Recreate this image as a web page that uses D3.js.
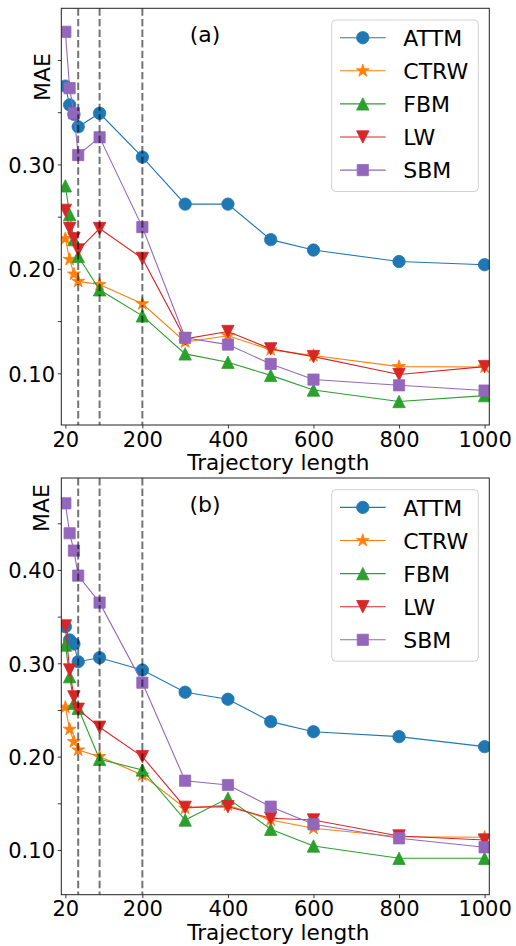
<!DOCTYPE html>
<html>
<head>
<meta charset="utf-8">
<script src="https://cdn.jsdelivr.net/npm/d3@7"></script>
<style>
  html, body { margin: 0; padding: 0; background: #fff; }
  svg { display: block; font-family: "DejaVu Sans", sans-serif; }
</style>
</head>
<body>
<svg id="chart" width="516" height="946"></svg>
<script>
// ---------------- data ----------------
const lengths = [20, 30, 40, 50, 100, 200, 300, 400, 500, 600, 800, 1000];
const seriesNames = ["ATTM", "CTRW", "FBM", "LW", "SBM"];
const dashedLengths = [50, 100, 200];
const xTickValues = [20, 200, 400, 600, 800, 1000];

// panel (a)
const attmA = [0.375, 0.357, 0.348, 0.336, 0.349, 0.307, 0.262, 0.262, 0.228, 0.218, 0.207, 0.204];
const ctrwA = [0.229, 0.209, 0.195, 0.188, 0.185, 0.1666, 0.130, 0.136, 0.1225, 0.117, 0.1064, 0.106];
const fbmA  = [0.2795, 0.252, 0.228, 0.212, 0.180, 0.155, 0.1186, 0.1106, 0.098, 0.084, 0.073, 0.0786];
const lwA   = [0.256, 0.2386, 0.229, 0.218, 0.2386, 0.210, 0.133, 0.140, 0.1234, 0.116, 0.0988, 0.1064];
const sbmA  = [0.427, 0.373, 0.349, 0.309, 0.326, 0.240, 0.134, 0.1275, 0.109, 0.094, 0.0885, 0.0835];
const yTicksA = [0.10, 0.15, 0.20, 0.25, 0.30, 0.35, 0.40];
const yLabelsA = [0.10, 0.20, 0.30];

// panel (b)
const attmB = [0.3392, 0.325, 0.3207, 0.3017, 0.306, 0.2928, 0.269, 0.2615, 0.2375, 0.2267, 0.2214, 0.2107];
const ctrwB = [0.2529, 0.2293, 0.216, 0.2071, 0.200, 0.1803, 0.1447, 0.1482, 0.1321, 0.1232, 0.1142, 0.1136];
const fbmB  = [0.3196, 0.2857, 0.2572, 0.2518, 0.1972, 0.1857, 0.1321, 0.1554, 0.1222, 0.1043, 0.0911, 0.0911];
const lwB   = [0.340, 0.2928, 0.264, 0.2507, 0.2315, 0.200, 0.1457, 0.1464, 0.134, 0.1321, 0.115, 0.1107];
const sbmB  = [0.4714, 0.4393, 0.4207, 0.3939, 0.365, 0.2792, 0.1742, 0.1696, 0.1464, 0.1275, 0.1125, 0.1029];
const yTicksB = [0.10, 0.15, 0.20, 0.25, 0.30, 0.35, 0.40, 0.45];
const yLabelsB = [0.10, 0.20, 0.30, 0.40];

// ---------------- style ----------------
const colors = ["#1f77b4", "#ff7f0e", "#2ca02c", "#d62728", "#9467bd"];
const markers = ["circle", "star", "up", "down", "square"];

const svg = d3.select("#chart");
const X0 = 61.3, X1 = 489.3;
const x = d3.scaleLinear().domain([10.5, 1011]).range([X0, X1]);

function markerPath(kind) {
  if (kind === "circle") { const r = 6.2; return `M${r},0A${r},${r} 0 1,1 ${-r},0A${r},${r} 0 1,1 ${r},0Z`; }
  if (kind === "square") { const s = 5.6; return `M${-s},${-s}H${s}V${s}H${-s}Z`; }
  if (kind === "up") { const w = 6.2, h = 6.2; return `M0,${-h}L${w},${h}L${-w},${h}Z`; }
  if (kind === "down") { const w = 6.2, h = 6.2; return `M0,${h}L${w},${-h}L${-w},${-h}Z`; }
  if (kind === "star") {
    const R = 6.8, r = R * 0.382; let p = "";
    for (let i = 0; i < 10; i++) {
      const rad = i % 2 === 0 ? R : r;
      const a = -Math.PI / 2 + i * Math.PI / 5;
      p += (i === 0 ? "M" : "L") + (rad * Math.cos(a)).toFixed(2) + "," + (rad * Math.sin(a)).toFixed(2);
    }
    return p + "Z";
  }
}

function drawPanel(cfg) {
  const { top, bottom, yDomain, series, yTicks, yLabels, tag, tagY, maeX, maeY, id } = cfg;
  const y = d3.scaleLinear().domain(yDomain).range([bottom, top]);
  const g = svg.append("g");

  g.append("clipPath").attr("id", "clip" + id)
    .append("rect").attr("x", X0).attr("y", top).attr("width", X1 - X0).attr("height", bottom - top);

  const plot = g.append("g").attr("clip-path", `url(#clip${id})`);

  series.forEach((vals, si) => {
    const pts = lengths.map((L, i) => [L, vals[i]]);
    plot.append("path")
      .attr("d", d3.line().x(d => x(d[0])).y(d => y(d[1]))(pts))
      .attr("fill", "none").attr("stroke", colors[si]).attr("stroke-width", 1.1);
    plot.selectAll(null).data(pts).enter().append("path")
      .attr("d", markerPath(markers[si]))
      .attr("transform", d => `translate(${x(d[0])},${y(d[1])})`)
      .attr("fill", colors[si]).attr("stroke", colors[si]).attr("stroke-width", 0.8);
  });

  // dashed vertical lines
  plot.selectAll(null).data(dashedLengths).enter().append("line")
    .attr("x1", d => x(d)).attr("x2", d => x(d))
    .attr("y1", top).attr("y2", bottom)
    .attr("stroke", "#000").attr("stroke-opacity", 0.55)
    .attr("stroke-width", 2).attr("stroke-dasharray", "7.4,3.2");

  // frame
  g.append("rect").attr("x", X0).attr("y", top).attr("width", X1 - X0).attr("height", bottom - top)
    .attr("fill", "none").attr("stroke", "#222").attr("stroke-width", 1);

  // x axis
  const xAxis = d3.axisBottom(x).tickValues(xTickValues).tickSize(3.5).tickPadding(3).tickFormat(d3.format("d"));
  const xa = g.append("g").attr("transform", `translate(0,${bottom})`).call(xAxis);
  xa.select(".domain").remove();
  xa.selectAll(".tick line").attr("stroke", "#222").attr("stroke-width", 0.9);
  xa.selectAll(".tick text").attr("font-size", 21).attr("font-family", "DejaVu Sans").attr("fill", "#000")
    .attr("dy", null).attr("y", 21.6);

  // y axis
  const yAxis = d3.axisLeft(y).tickValues(yTicks).tickSize(3.5).tickPadding(3)
    .tickFormat(d => yLabels.some(v => Math.abs(v - d) < 1e-9) ? d3.format(".2f")(d) : "");
  const ya = g.append("g").attr("transform", `translate(${X0},0)`).call(yAxis);
  ya.select(".domain").remove();
  ya.selectAll(".tick line").attr("stroke", "#222").attr("stroke-width", 0.9);
  ya.selectAll(".tick text").attr("font-size", 21).attr("font-family", "DejaVu Sans").attr("fill", "#000")
    .attr("dy", null).attr("y", 8).attr("x", -6.3);

  // x label
  g.append("text").attr("x", (X0 + X1) / 2 + 3).attr("y", bottom + 44.8)
    .attr("text-anchor", "middle").attr("font-size", 21.6).text("Trajectory length");

  // y label
  g.append("text").attr("transform", `translate(${maeX},${maeY}) rotate(-90)`)
    .attr("text-anchor", "middle").attr("font-size", 22).text("MAE");

  // panel tag
  g.append("text").attr("x", 205).attr("y", tagY).attr("text-anchor", "middle")
    .attr("font-size", 22).text(tag);

  // legend
  const lg = g.append("g");
  const lTop = top + 11.7;
  lg.append("rect").attr("x", 331.7).attr("y", lTop).attr("width", 146.6).attr("height", 171.5)
    .attr("rx", 4).attr("fill", "#fff").attr("fill-opacity", 0.8)
    .attr("stroke", "#d0d0d0").attr("stroke-width", 1);
  seriesNames.forEach((name, si) => {
    const ly = lTop + 17.7 + si * 33.1;
    lg.append("line").attr("x1", 340).attr("x2", 385.7).attr("y1", ly).attr("y2", ly)
      .attr("stroke", colors[si]).attr("stroke-width", 1.1);
    lg.append("path").attr("d", markerPath(markers[si]))
      .attr("transform", `translate(362.8,${ly})`)
      .attr("fill", colors[si]).attr("stroke", colors[si]).attr("stroke-width", 0.8);
    lg.append("text").attr("x", 403.3).attr("y", ly + 8.3).attr("font-size", 22).text(name);
  });
}

drawPanel({
  id: "a", top: 8.3, bottom: 425, yDomain: [0.0505, 0.4495],
  series: [attmA, ctrwA, fbmA, lwA, sbmA], yTicks: yTicksA, yLabels: yLabelsA,
  tag: "(a)", tagY: 42, maeX: 50, maeY: 77
});
drawPanel({
  id: "b", top: 478, bottom: 894.7, yDomain: [0.0521, 0.4985],
  series: [attmB, ctrwB, fbmB, lwB, sbmB], yTicks: yTicksB, yLabels: yLabelsB,
  tag: "(b)", tagY: 511.5, maeX: 49.3, maeY: 508
});
</script>
</body>
</html>
